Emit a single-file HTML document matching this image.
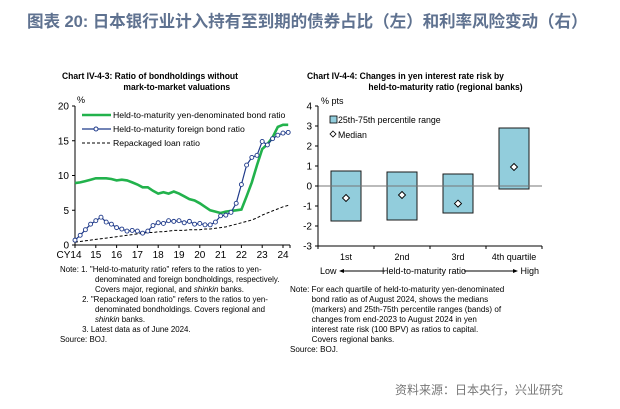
<!DOCTYPE html>
<html><head><meta charset="utf-8"><style>
body{margin:0;width:620px;height:409px;background:#fff;position:relative;overflow:hidden;font-family:"Liberation Sans",Arial,sans-serif;}
.t{position:absolute;white-space:nowrap;}
#title{left:27px;top:8px;font-size:16.6px;font-weight:bold;color:#5f7290;font-family:"Liberation Sans","Noto Sans CJK SC",sans-serif;letter-spacing:-0.1px}
.ct{font-size:9.6px;font-weight:bold;color:#000;line-height:11px;transform:scaleX(0.89);transform-origin:0 0}
.note{font-size:8.6px;color:#000;line-height:10px;transform-origin:0 0}
#src{left:395px;top:381px;font-size:12px;color:#777;font-family:"Liberation Sans","Noto Sans CJK SC",sans-serif}
svg text{font-family:"Liberation Sans",Arial,sans-serif;}
</style></head><body>
<div id="title" class="t">图表 20: 日本银行业计入持有至到期的债券占比（左）和利率风险变动（右）</div>
<div class="t ct" style="left:62px;top:71px">Chart IV-4-3: Ratio of bondholdings without<br><span style="padding-left:69px">mark-to-market valuations</span></div>
<div class="t ct" style="left:307px;top:71px">Chart IV-4-4: Changes in yen interest rate risk by<br><span style="padding-left:69px">held-to-maturity ratio (regional banks)</span></div>
<svg id="chart" width="620" height="409" style="position:absolute;left:0;top:0"></svg>
<div class="t note" style="left:60px;top:264px;transform:scaleX(0.92)">Note: 1. "Held-to-maturity ratio" refers to the ratios to yen-<br><span style="padding-left:38px">denominated and foreign bondholdings, respectively.</span><br><span style="padding-left:38px">Covers major, regional, and <i>shinkin</i> banks.</span><br><span style="padding-left:24px">2. "Repackaged loan ratio" refers to the ratios to yen-</span><br><span style="padding-left:38px">denominated bondholdings. Covers regional and</span><br><span style="padding-left:38px"><i>shinkin</i> banks.</span><br><span style="padding-left:24px">3. Latest data as of June 2024.</span><br>Source: BOJ.</div>
<div class="t note" style="left:290px;top:284px;transform:scaleX(0.94)">Note: For each quartile of held-to-maturity yen-denominated<br><span style="padding-left:23px">bond ratio as of August 2024, shows the medians</span><br><span style="padding-left:23px">(markers) and 25th-75th percentile ranges (bands) of</span><br><span style="padding-left:23px">changes from end-2023 to August 2024 in yen</span><br><span style="padding-left:23px">interest rate risk (100 BPV) as ratios to capital.</span><br><span style="padding-left:23px">Covers regional banks.</span><br>Source: BOJ.</div>
<div id="src" class="t">资料来源：日本央行，兴业研究</div>
<script>
const years=["CY14","15","16","17","18","19","20","21","22","23","24"];
const yTicksL=[0,5,10,15,20];
const yenRatio=[8.9,9.0,9.2,9.4,9.6,9.6,9.6,9.5,9.3,9.4,9.3,9.0,8.7,8.3,8.3,7.8,7.4,7.6,7.4,7.7,7.4,7.0,6.6,6.4,6.0,5.5,5.0,4.8,4.6,4.8,4.9,5.0,5.1,7.0,9.0,11.5,13.8,14.5,15.5,17.0,17.3,17.3];
const foreignRatio=[0.7,1.4,2.2,3.0,3.5,4.0,3.3,3.0,2.5,2.3,2.0,2.1,2.0,1.7,2.0,2.8,3.2,3.1,3.5,3.4,3.5,3.2,3.4,3.0,3.1,2.9,2.9,3.3,4.2,4.3,4.7,6.0,8.7,11.5,12.6,12.9,14.9,14.4,15.3,15.8,16.1,16.2];
const repackRatio=[0.4,0.5,0.6,0.7,0.8,0.9,1.0,1.1,1.2,1.3,1.4,1.5,1.6,1.7,1.8,1.8,1.9,1.9,2.0,2.1,2.1,2.1,2.2,2.2,2.2,2.3,2.3,2.4,2.5,2.6,2.8,3.0,3.2,3.4,3.6,3.9,4.3,4.6,4.9,5.2,5.5,5.7];
const quartiles=["1st","2nd","3rd","4th quartile"];
const q25=[-1.75,-1.7,-1.35,-0.15];
const q75=[0.75,0.7,0.6,2.9];
const medians=[-0.6,-0.45,-0.88,0.95];
const yTicksR=[-3,-2,-1,0,1,2,3,4];

const svg=document.getElementById('chart');
const NS='http://www.w3.org/2000/svg';
function mk(tag,attrs,parent){const e=document.createElementNS(NS,tag);for(const k in attrs)e.setAttribute(k,attrs[k]);(parent||svg).appendChild(e);return e;}
function txt(x,y,s,anchor,size,name){const e=mk('text',{x:x,y:y,'font-size':size||9.5,'text-anchor':anchor||'middle',fill:'#000'});e.textContent=s;


return e;}

// Left chart
const lx0=75,lx1=290,ly0=245,ly1=106;
const xL=i=>lx0+i*(20.8/4);
const yL=v=>ly0-(v/20)*(ly0-ly1);
let a=mk('line',{x1:lx0,y1:ly1,x2:lx0,y2:ly0,stroke:'#000','stroke-width':1});


a=mk('line',{x1:lx0,y1:ly0,x2:lx1,y2:ly0,stroke:'#000','stroke-width':1});


yTicksL.forEach(v=>{mk('line',{x1:lx0-3,y1:yL(v),x2:lx0,y2:yL(v),stroke:'#000'});txt(lx0-6,yL(v)+3.5,String(v),'end',10,'left-y-tick-label');});
txt(lx0+2,yL(20)-3,'%','start',9,'left-y-unit');
years.forEach((s,i)=>{const x=lx0+i*20.8;mk('line',{x1:x,y1:ly0,x2:x,y2:ly0+3,stroke:'#000'});txt(i===0?x-6:x,ly0+13,s,'middle',10,'left-x-tick-label');});
mk('line',{x1:lx1,y1:ly0,x2:lx1,y2:ly0+3,stroke:'#000'});
function path(arr){return arr.map((v,i)=>(i?'L':'M')+xL(i).toFixed(1)+','+yL(v).toFixed(1)).join('');}
let p=mk('path',{d:path(repackRatio),fill:'none',stroke:'#000','stroke-width':1,'stroke-dasharray':'3,2'});


p=mk('path',{d:path(yenRatio),fill:'none',stroke:'#22b24c','stroke-width':2.6});


p=mk('path',{d:path(foreignRatio),fill:'none',stroke:'#1f3a8a','stroke-width':1.2});


foreignRatio.forEach((v,i)=>{const c=mk('circle',{cx:xL(i),cy:yL(v),r:2,fill:'#fff',stroke:'#1f3a8a','stroke-width':0.9});

});
// legend
mk('line',{x1:82,y1:115,x2:111,y2:115,stroke:'#22b24c','stroke-width':2.6});
txt(113,118,'Held-to-maturity yen-denominated bond ratio','start',8.7,'legend-yen');
mk('line',{x1:82,y1:129,x2:111,y2:129,stroke:'#1f3a8a','stroke-width':1.2});
mk('circle',{cx:96,cy:129,r:2,fill:'#fff',stroke:'#1f3a8a'});
txt(113,132,'Held-to-maturity foreign bond ratio','start',8.7,'legend-foreign');
mk('line',{x1:82,y1:143,x2:111,y2:143,stroke:'#000','stroke-dasharray':'3,2'});
txt(113,146,'Repackaged loan ratio','start',8.7,'legend-repack');

// Right chart
const rx0=318,rx1=542,ry1=106,ry0=246;
const yR=v=>ry1+(4-v)*20;
const cw=(rx1-rx0)/4;
const xR=i=>rx0+cw*(i+0.5);
quartiles.forEach((q,i)=>{const r=mk('rect',{x:xR(i)-15,y:yR(q75[i]),width:30,height:yR(q25[i])-yR(q75[i]),fill:'#92cddc',stroke:'#1a1a1a','stroke-width':1});


txt(xR(i),ry0+14,q,'middle',9,'right-x-tick-label');});
a=mk('line',{x1:rx0,y1:yR(0),x2:rx1,y2:yR(0),stroke:'#777','stroke-width':1});


medians.forEach((m,i)=>{const x=xR(i),y=yR(m);const d=mk('path',{d:`M${x},${y-3.5}L${x+3.5},${y}L${x},${y+3.5}L${x-3.5},${y}Z`,fill:'#fff',stroke:'#000','stroke-width':0.9});

});
a=mk('line',{x1:rx0,y1:ry1,x2:rx0,y2:ry0,stroke:'#000'});


a=mk('line',{x1:rx0,y1:ry0,x2:rx1,y2:ry0,stroke:'#000'});


for(let i=0;i<=4;i++)mk('line',{x1:rx0+cw*i,y1:ry0,x2:rx0+cw*i,y2:ry0+3,stroke:'#000'});
yTicksR.forEach(v=>{mk('line',{x1:rx0-3,y1:yR(v),x2:rx0,y2:yR(v),stroke:'#000'});txt(rx0-6,yR(v)+3.5,String(v),'end',10,'right-y-tick-label');});
txt(321,104,'% pts','start',9,'right-y-unit');
mk('rect',{x:330,y:116,width:7,height:7,fill:'#92cddc',stroke:'#000','stroke-width':0.8});
txt(338,123,'25th-75th percentile range','start',8.8,'legend-band');
mk('path',{d:'M333,131L336,134L333,137L330,134Z',fill:'#fff',stroke:'#000','stroke-width':0.8});
txt(338,138,'Median','start',8.8,'legend-median');
txt(320,274,'Low','start',9,'low-label');
txt(539,274,'High','end',9,'high-label');
txt(424,274,'Held-to-maturity ratio','middle',9,'x-axis-title');
mk('line',{x1:341,y1:271,x2:385,y2:271,stroke:'#000'});mk('path',{d:'M339,271L344,269L344,273Z',fill:'#000'});
mk('line',{x1:464,y1:271,x2:515,y2:271,stroke:'#000'});mk('path',{d:'M518,271L513,269L513,273Z',fill:'#000'});
</script>
</body></html>
